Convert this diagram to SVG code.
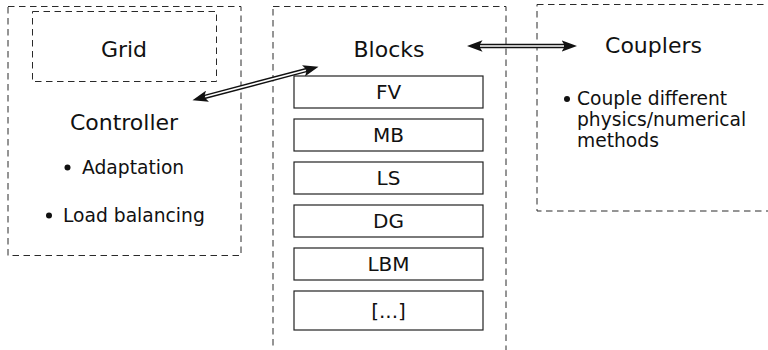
<svg xmlns="http://www.w3.org/2000/svg" width="768" height="350" viewBox="0 0 768 350">
  <style>
    .dash { fill: none; stroke: #2a2a2a; stroke-width: 1; stroke-dasharray: 6.5 4.5; }
    .blk { fill: #fff; stroke: #222; stroke-width: 1.2; }
    .title { font-family: "DejaVu Sans", sans-serif; font-size: 22px; fill: #111; text-anchor: middle; }
    .lbl { font-family: "DejaVu Sans", sans-serif; font-size: 20px; fill: #111; text-anchor: middle; }
    .item { font-family: "DejaVu Sans", sans-serif; font-size: 18.7px; fill: #111; }
    .outer { fill: none; stroke: #111; stroke-width: 4.4; }
    .inner { fill: none; stroke: #fff; stroke-width: 1.6; }
  </style>
  <defs>
    <marker id="head" viewBox="0 -6 16 12" markerUnits="userSpaceOnUse" markerWidth="16" markerHeight="12" refX="3.5" refY="0" orient="auto-start-reverse">
      <path d="M0,-5.8 L15.5,0 L0,5.8 L3.5,0 z" fill="#111"/>
    </marker>
  </defs>
  <rect width="768" height="350" fill="#fff"/>

  <!-- Controller with nested Grid -->
  <g id="controller">
    <rect class="dash" x="8" y="6.5" width="233" height="249"/>
    <text class="title" x="124" y="130">Controller</text>
    <circle cx="67.5" cy="167.5" r="3" fill="#111"/>
    <text class="item" x="82" y="174">Adaptation</text>
    <circle cx="49" cy="215.5" r="3" fill="#111"/>
    <text class="item" x="63" y="222">Load balancing</text>
  </g>
  <g id="grid">
    <rect class="dash" x="32.5" y="11.5" width="184" height="70"/>
    <text class="title" x="124" y="57">Grid</text>
  </g>

  <!-- Blocks column -->
  <g id="blocks">
    <rect class="dash" x="273" y="6.5" width="233" height="360"/>
    <text class="title" x="389" y="57">Blocks</text>
  </g>
  <g id="block-fv">
    <rect class="blk" x="294" y="76" width="189" height="32"/>
    <text class="lbl" x="388.5" y="99">FV</text>
  </g>
  <g id="block-mb">
    <rect class="blk" x="294" y="119" width="189" height="32"/>
    <text class="lbl" x="388.5" y="142">MB</text>
  </g>
  <g id="block-ls">
    <rect class="blk" x="294" y="162" width="189" height="32"/>
    <text class="lbl" x="388.5" y="185">LS</text>
  </g>
  <g id="block-dg">
    <rect class="blk" x="294" y="205" width="189" height="32"/>
    <text class="lbl" x="388.5" y="228">DG</text>
  </g>
  <g id="block-lbm">
    <rect class="blk" x="294" y="248" width="189" height="32"/>
    <text class="lbl" x="388.5" y="271">LBM</text>
  </g>
  <g id="block-more">
    <rect class="blk" x="294" y="291" width="189" height="39"/>
    <text class="lbl" x="388.5" y="317.5">[...]</text>
  </g>

  <!-- Couplers -->
  <g id="couplers">
    <rect class="dash" x="537" y="4.5" width="240" height="206.5"/>
    <text class="title" x="653.5" y="53">Couplers</text>
    <circle cx="567" cy="99" r="3" fill="#111"/>
    <text class="item" x="577" y="105">Couple different</text>
    <text class="item" x="577" y="126">physics/numerical</text>
    <text class="item" x="577" y="147">methods</text>
  </g>

  <!-- Double-line connectors -->
  <g id="connectors">
    <path class="outer" d="M204.1,97.1 L306.9,69.9" marker-start="url(#head)" marker-end="url(#head)"/>
    <path class="inner" d="M205.1,96.8 L305.9,70.2"/>
    <path class="outer" d="M479,46 L565,46" marker-start="url(#head)" marker-end="url(#head)"/>
    <path class="inner" d="M480,46 L564,46"/>
  </g>
</svg>
